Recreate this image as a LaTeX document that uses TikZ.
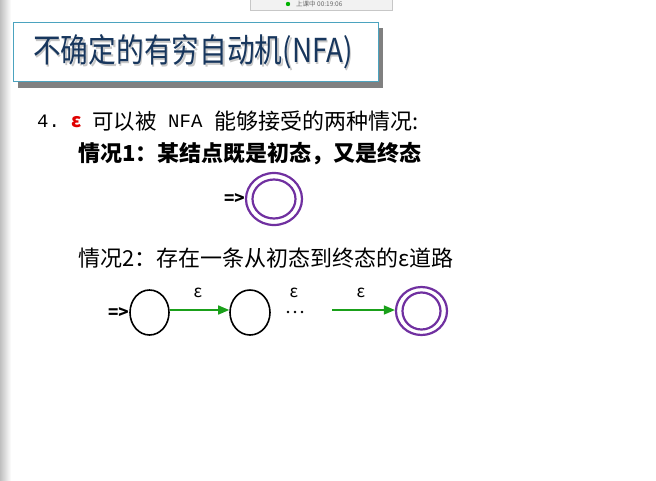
\documentclass[tikz,border=0pt]{standalone}
\usepackage{fontspec}
\usetikzlibrary{arrows.meta,shapes.geometric}
\newfontfamily\cjk{Noto Sans CJK SC}
\newfontfamily\monof{Liberation Mono}
\definecolor{titleblue}{HTML}{17365D}
\definecolor{frameteal}{HTML}{4BA3BF}
\definecolor{shadowgray}{HTML}{808080}
\definecolor{statepurple}{HTML}{7030A0}
\definecolor{edgegreen}{HTML}{1AA01A}
\definecolor{epsred}{HTML}{E00000}
\tikzset{
  txt/.style={inner sep=0pt, anchor=west, font=\cjk},
  state/.style={draw=black, line width=1.6pt, ellipse, minimum width=39pt, minimum height=45pt, inner sep=0pt},
  accout/.style={draw=statepurple, line width=2.2pt, ellipse, inner sep=0pt},
  accin/.style={draw=statepurple, line width=2.2pt, ellipse, inner sep=0pt},
  eps/.style={inner sep=0pt, font=\cjk\fontsize{17}{17}\selectfont},
  startmark/.style={inner sep=0pt, anchor=east, font=\cjk\bfseries\fontsize{17}{17}\selectfont},
  epsedge/.style={draw=edgegreen, line width=1.5pt, -{Triangle[length=11pt,width=9pt]}},
}
\newcommand{\titletext}{\scalebox{0.84}[1]{\cjk\fontsize{33}{33}\selectfont 不确定的有穷自动机(NFA)}}
\begin{document}
\begin{tikzpicture}[x=1pt,y=-1pt]
\useasboundingbox (0,0) rectangle (656,480);
\fill[white] (0,0) rectangle (656,480);
% grey edge strip on the left
\shade[left color=black!25, right color=white] (0,0) rectangle (11,480);

% recorder badge at the top
\begin{scope}
\clip (0,0) rectangle (656,10);
\filldraw[fill=black!5, draw=black!22, line width=0.8pt] (250,-12) rectangle (392,10);
\end{scope}
\fill[green!70!black] (288,4) circle (2.2);
\node[txt, font=\cjk\fontsize{6.5}{6.5}\selectfont, text=black!60] (badge) at (296,4.5) {上课中 00:19:06};

% title banner with drop shadow
\fill[shadowgray] (18,28) rectangle (383,88);
\filldraw[fill=white, draw=frameteal, line width=1pt] (13,22) rectangle (378,81);
\node[txt, text=black!22] at (34.5,53.5) {\titletext};
\node[txt, text=titleblue] (title) at (33,52) {\titletext};

% item 4
\node[txt, font=\monof\fontsize{19}{19}\selectfont] (num) at (37,121) {4.};
\node[txt, text=epsred, font=\cjk\bfseries\fontsize{19}{19}\selectfont] (eps0) at (71,122) {ε};
\node[txt, font=\cjk\fontsize{21.5}{21.5}\selectfont] (l1a) at (92,121) {可以被};
\node[txt, font=\monof\fontsize{19}{19}\selectfont] (nfa) at (168,121) {NFA};
\node[txt, font=\cjk\fontsize{22}{22}\selectfont] (l1b) at (214,121) {能够接受的两种情况:};

% case 1
\node[txt, font=\cjk\bfseries\fontsize{22}{22}\selectfont] (case1) at (78,154) {情况1：某结点既是初态，又是终态};
\node[accout, minimum width=56pt, minimum height=52pt] (q) at (274,199) {};
\node[accin, minimum width=43pt, minimum height=39pt] at (q) {};
\node[startmark] (s1) at (245,199) {=>};

% case 2
\node[txt, font=\cjk\fontsize{22}{22}\selectfont] (case2) at (78,258) {情况2：存在一条从初态到终态的ε道路};
\node[state] (a) at (149.5,312.5) {};
\node[state, minimum width=40pt] (b) at (250,312.5) {};
\node[accout, minimum width=51pt, minimum height=48pt] (f) at (421.5,311) {};
\node[accin, minimum width=38pt, minimum height=37pt] at (f) {};
\node[startmark] (s2) at (129,313) {=>};
\coordinate (c) at (332,310);
\draw[epsedge] (a.east |- 0,310) -- (b.west |- 0,310);
\draw[epsedge] (c) -- (f.west |- 0,310);
\node[eps] (e1) at (198,293) {ε};
\node[eps] (e2) at (294,293) {ε};
\node[eps] (e3) at (361,293) {ε};
% ellipsis between the middle states
\foreach \x in {288,295,302} \fill (\x,312) circle (1.4);
\end{tikzpicture}
\end{document}
